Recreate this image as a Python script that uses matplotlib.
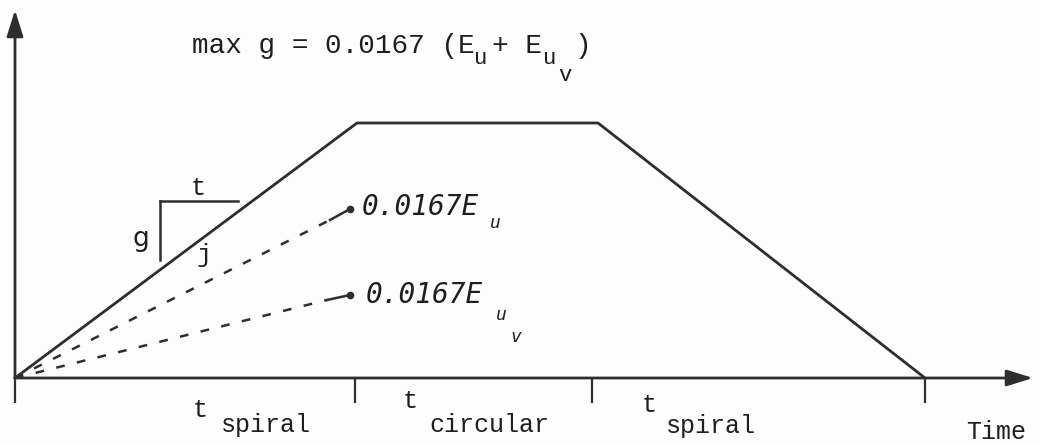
import matplotlib
matplotlib.use("Agg")
import matplotlib.pyplot as plt

# ---- data ----
time_points = [0, 342, 583, 910]          # start, end spiral, end circular, end spiral
g_values = [0, 255, 255, 0]               # superelevation runoff g (trapezoid)
tick_times = [0, 340, 577, 910]
eu_time = [0, 315, 335]
eu_g = [0, 158, 169]
euv_time = [0, 312, 335]
euv_g = [0, 78, 83]
slope_h = ([145, 223], [177, 177])
slope_v = ([145, 145], [177, 118])
segment_labels = ["spiral", "circular", "spiral"]

LINE = "#2e2e2e"
TXT = "#1e1e1e"
MONO = "Liberation Mono"
HAND = "DejaVu Sans Mono"

fig = plt.figure(figsize=(10.41, 4.44), dpi=100)
fig.patch.set_facecolor("#fdfdfd")
ax = fig.add_axes([0, 0, 1, 1])
ax.set_xlim(-15, 1026)
ax.set_ylim(-66, 378)
ax.axis("off")

def P(xp, yp):
    """pixel -> data helper for text placement"""
    return xp - 15, 378 - yp

# axes with arrows
arrow = dict(arrowstyle="-|>,head_length=0.8,head_width=0.25", color=LINE,
             lw=2.0, mutation_scale=20, shrinkA=0, shrinkB=0)
ax.annotate("", xy=(0, 368), xytext=(0, 0), arrowprops=arrow)
ax.annotate("", xy=(1018, 0), xytext=(0, 0), arrowprops=arrow)

# ticks below time axis
for t in tick_times:
    ax.plot([t, t], [0, -25], color=LINE, lw=1.6, solid_capstyle="butt")

# main trapezoid
ax.plot(time_points, g_values, color=LINE, lw=2.0, solid_joinstyle="miter")

# dashed component lines
for tt, gg in ((eu_time, eu_g), (euv_time, euv_g)):
    ax.plot(tt[:2], gg[:2], color=LINE, lw=1.8, linestyle=(0, (3.5, 5)))
    ax.plot(tt[1:], gg[1:], color=LINE, lw=1.8)
    ax.plot([tt[-1]], [gg[-1]], "o", color=LINE, ms=4.5)

# slope triangle
ax.plot(*slope_h, color=LINE, lw=1.8)
ax.plot(*slope_v, color=LINE, lw=1.8)

# ---- text ----
ax.text(*P(192, 53), "max g = 0.0167 (E", family=MONO, fontsize=20,
        color=TXT, va="baseline", ha="left")
ax.text(*P(474, 64), "u", family=MONO, fontsize=16, color=TXT, va="baseline")
ax.text(*P(492, 53), "+ E", family=MONO, fontsize=20,
        color=TXT, va="baseline", ha="left")
ax.text(*P(543, 64), "u", family=MONO, fontsize=16, color=TXT, va="baseline")
ax.text(*P(558, 81), "v", family=MONO, fontsize=16, color=TXT, va="baseline")
ax.text(*P(574, 53), ")", family=MONO, fontsize=20,
        color=TXT, va="baseline", ha="left")

# slope triangle labels
ax.text(*P(191, 195), "t", family=MONO, fontsize=18, color=TXT, va="baseline")
ax.text(*P(132, 246), "g", family="DejaVu Sans", fontsize=19, color=TXT, va="baseline")
ax.text(*P(197, 262), "j", family=MONO, fontsize=18, color=TXT, va="baseline")

# handwritten labels
ax.text(*P(362, 215), "0.0167E", family=HAND, style="italic",
        fontsize=20, color=TXT, va="baseline")
ax.text(*P(490, 228), "u", family=HAND, style="italic",
        fontsize=13, color=TXT, va="baseline")
ax.text(*P(366, 303), "0.0167E", family=HAND, style="italic",
        fontsize=20, color=TXT, va="baseline")
ax.text(*P(496, 320), "u", family=HAND, style="italic",
        fontsize=13, color=TXT, va="baseline")
ax.text(*P(510, 342), "v", family=HAND, style="italic",
        fontsize=13, color=TXT, va="baseline")

# segment labels below axis
t_pos = [(193, 417), (403, 408), (642, 412)]
lab_pos = [(221, 432), (429, 432), (666, 433)]
for (tx, ty), (lx, ly), lab in zip(t_pos, lab_pos, segment_labels):
    ax.text(*P(tx, ty), "t", family=MONO, fontsize=18, color=TXT, va="baseline")
    ax.text(*P(lx, ly), lab, family=MONO, fontsize=18, color=TXT, va="baseline")

ax.text(*P(966, 439), "Time", family=MONO, fontsize=18, color=TXT, va="baseline")

fig.savefig("out.png", dpi=100, facecolor=fig.get_facecolor())
